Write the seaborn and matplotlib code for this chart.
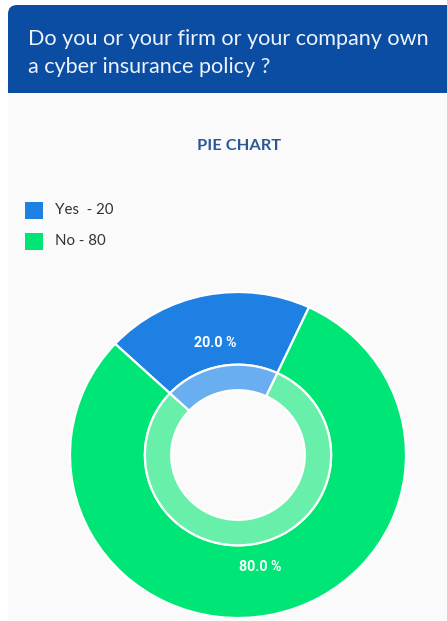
import matplotlib
matplotlib.use("Agg")
import matplotlib.pyplot as plt
from matplotlib.patches import FancyBboxPatch, Rectangle
import seaborn as sns

# Survey answers
categories = ["Yes", "No"]
counts = [20, 80]
question = "Do you or your firm or your company own\na cyber insurance policy ?"
chart_title = "PIE CHART"

sns.set_theme(style="white")
plt.rcParams["font.family"] = ["Lato", "DejaVu Sans"]

outer_colors = ["#1e80e3", "#00e676"]
inner_colors = ["#69aef0", "#68efaa"]

W, H = 447, 621
fig = plt.figure(figsize=(W / 100, H / 100), dpi=100)
fig.patch.set_facecolor("white")

# Full-figure layer in pixel units for the card, header and legend
bg = fig.add_axes([0, 0, 1, 1])
bg.set_xlim(0, W)
bg.set_ylim(H, 0)
bg.axis("off")
bg.add_patch(Rectangle((8, 93), W - 8, H - 93, facecolor="#fafafa", edgecolor="none"))
bg.add_patch(FancyBboxPatch((8, 5), W + 20, 108, boxstyle="round,pad=0,rounding_size=9",
                            facecolor="#0b4da2", edgecolor="none", mutation_aspect=1))
bg.add_patch(Rectangle((8, 93), W - 8, 30, facecolor="#fafafa", edgecolor="none"))
bg.text(28, 53, question, color="#eef3fb", fontsize=15.6, ha="left", va="center",
        linespacing=1.55)
bg.text(239, 146, chart_title, color="#2b5797", fontsize=11.8, fontweight="bold",
        ha="center", va="center")

legend_y = [210, 241]
for cat, val, col, y in zip(categories, counts, outer_colors, legend_y):
    bg.add_patch(Rectangle((25, y - 8.5), 17.5, 17.5, facecolor=col, edgecolor="none"))
    sep = "  - " if cat == "Yes" else " - "
    bg.text(55, y, f"{cat}{sep}{val}", color="#333333", fontsize=10.8, ha="left", va="center")

# Donut: outer ring with a lighter inner band
cx, cy, rx, ry = 238, 455, 168, 163
ax = fig.add_axes([(cx - rx) / W, 1 - (cy + ry) / H, 2 * rx / W, 2 * ry / H])
r_outer, r_mid, r_hole = 1.0, 92 / 166, 66 / 166
wedges, _, pct_texts = ax.pie(
    counts, colors=outer_colors, startangle=65, counterclock=True, radius=r_outer,
    autopct="%.1f %%", pctdistance=0.7,
    wedgeprops=dict(width=r_outer - r_mid, edgecolor="white", linewidth=1.6),
)
ax.pie(
    counts, colors=inner_colors, startangle=65, counterclock=True, radius=r_mid,
    wedgeprops=dict(width=r_mid - r_hole, edgecolor="white", linewidth=1.6),
)
for t in pct_texts:
    t.set_color("white")
    t.set_fontsize(10.3)
    t.set_fontweight("bold")
    t.set_fontfamily(["Roboto", "DejaVu Sans"])
ax.set_aspect("auto")
ax.set_xlim(-1, 1)
ax.set_ylim(-1, 1)
ax.axis("off")

fig.savefig("out.png", dpi=100, facecolor=fig.get_facecolor())
